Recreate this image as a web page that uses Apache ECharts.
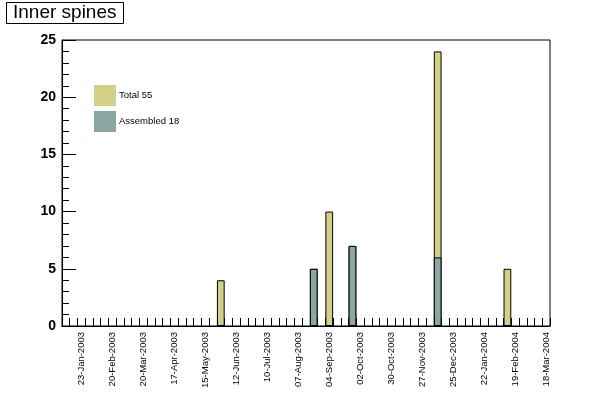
<!DOCTYPE html>
<html>
<head>
<meta charset="utf-8">
<script src="https://cdn.jsdelivr.net/npm/echarts@6/dist/echarts.min.js"></script>
<style>
html,body{margin:0;padding:0;background:#fff;}
#chart{width:612px;height:393px;}
</style>
</head>
<body>
<div id="chart"></div>
<script>
// Weekly bins: 63 bins, tick labels every 4 weeks starting at bin 2
var binCount = 63;
var tickLabels = ['23-Jan-2003','20-Feb-2003','20-Mar-2003','17-Apr-2003','15-May-2003','12-Jun-2003','10-Jul-2003','07-Aug-2003','04-Sep-2003','02-Oct-2003','30-Oct-2003','27-Nov-2003','25-Dec-2003','22-Jan-2004','19-Feb-2004','18-Mar-2004'];
var firstLabelBin = 2;
var labelStep = 4;

// Filled bins (bin index) and counts
var totalBins = [20, 32, 34, 37, 48, 57];
var totalValues = [4, 5, 10, 7, 24, 5];
var assembledBins = [32, 37, 48];
var assembledValues = [5, 7, 6];

var totalName = 'Total 55';
var assembledName = 'Assembled 18';

var categories = [];
for (var i = 0; i < binCount; i++) categories.push(String(i));

function fill(bins, vals) {
  var arr = [];
  for (var i = 0; i < binCount; i++) arr.push(null);
  for (var j = 0; j < bins.length; j++) arr[bins[j]] = vals[j];
  return arr;
}

var chart = echarts.init(document.getElementById('chart'), null, {renderer: 'canvas'});
chart.setOption({
  backgroundColor: '#ffffff',
  animation: false,
  title: {
    text: 'Inner spines',
    left: 6,
    top: 2,
    padding: [1, 7, 1, 7],
    borderColor: '#000',
    borderWidth: 1,
    backgroundColor: '#fff',
    textStyle: {
      fontFamily: 'Liberation Sans, Arial, sans-serif',
      fontSize: 19,
      fontWeight: 'normal',
      color: '#000',
      lineHeight: 20
    }
  },
  legend: {
    orient: 'vertical',
    left: 94,
    top: 85,
    padding: 0,
    itemWidth: 22,
    itemHeight: 21,
    itemGap: 5,
    icon: 'rect',
    itemStyle: {borderWidth: 0},
    textStyle: {
      fontFamily: 'Liberation Sans, Arial, sans-serif',
      fontSize: 9.5,
      color: '#000',
      padding: [0, 0, 0, -2]
    },
    data: [totalName, assembledName]
  },
  grid: {
    left: 62,
    right: 62,
    top: 40,
    bottom: 67,
    show: true,
    borderColor: '#000',
    borderWidth: 1,
    backgroundColor: 'transparent'
  },
  xAxis: {
    type: 'category',
    data: categories,
    boundaryGap: true,
    z: 5,
    axisLine: {show: true, lineStyle: {color: '#000', width: 1}},
    axisTick: {show: true, inside: true, length: 8, interval: 0, lineStyle: {color: '#000', width: 1}},
    axisLabel: {
      show: true,
      rotate: 90,
      margin: 6,
      interval: function (index) { return index >= firstLabelBin && (index - firstLabelBin) % labelStep === 0; },
      formatter: function (value, index) {
        var k = (index - firstLabelBin) / labelStep;
        return tickLabels[k] || '';
      },
      fontFamily: 'Liberation Sans, Arial, sans-serif',
      fontSize: 9.5,
      color: '#000'
    },
    splitLine: {show: false}
  },
  yAxis: {
    type: 'value',
    min: 0,
    max: 25,
    interval: 5,
    z: 5,
    axisLine: {show: true, lineStyle: {color: '#000', width: 1}},
    axisTick: {show: true, inside: true, length: 14, lineStyle: {color: '#000', width: 1}},
    minorTick: {show: true, splitNumber: 5, length: 7, lineStyle: {color: '#000', width: 1}},
    axisLabel: {
      margin: 6,
      fontFamily: 'Liberation Sans, Arial, sans-serif',
      fontSize: 14,
      fontWeight: 'bold',
      color: '#000'
    },
    splitLine: {show: false}
  },
  series: [
    {
      name: totalName,
      type: 'bar',
      data: fill(totalBins, totalValues),
      barCategoryGap: '0%',
      barGap: '-100%',
      itemStyle: {color: '#d4cf87', borderColor: '#000', borderWidth: 1}
    },
    {
      name: assembledName,
      type: 'bar',
      data: fill(assembledBins, assembledValues),
      barCategoryGap: '0%',
      barGap: '-100%',
      itemStyle: {color: '#8aa8a1', borderColor: '#000', borderWidth: 1}
    }
  ]
});
</script>
</body>
</html>
